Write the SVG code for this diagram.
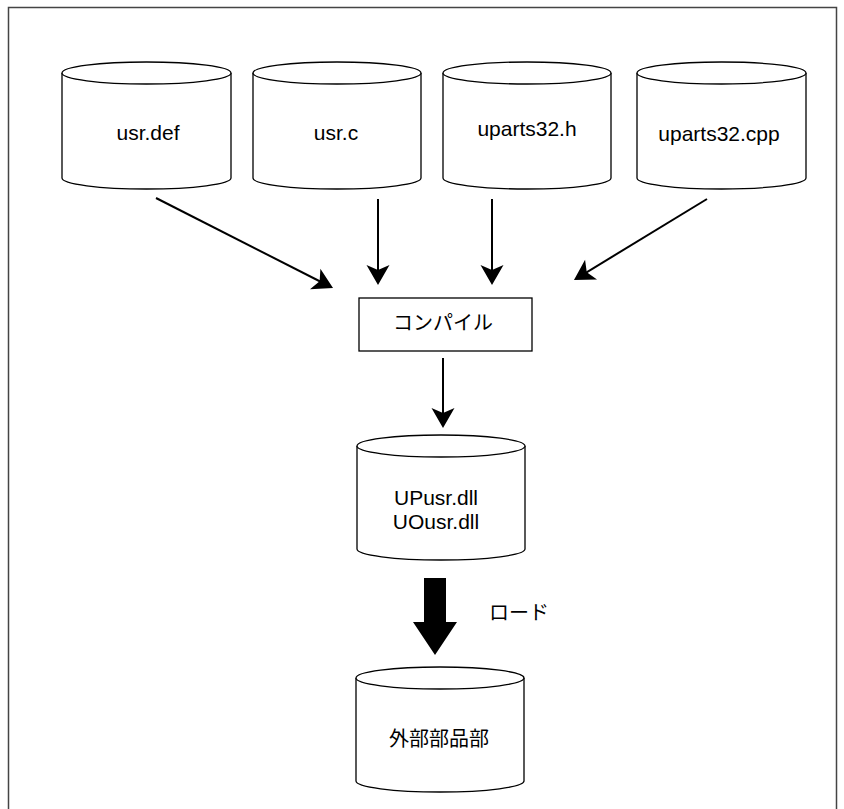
<svg xmlns="http://www.w3.org/2000/svg" width="844" height="809" viewBox="0 0 844 809">
  <style>
    .frame { fill: none; stroke: #444444; stroke-width: 1.5; }
    .cyl { fill: #ffffff; stroke: #000000; stroke-width: 1.3; }
    .box { fill: #ffffff; stroke: #000000; stroke-width: 1.3; }
    .flow { fill: none; stroke: #000000; stroke-width: 2; }
    .label { font-family: "Liberation Sans", Arial, sans-serif; font-size: 21px; fill: #000000; text-anchor: middle; }
    .jp { font-family: "Noto Sans CJK JP", "Liberation Sans", sans-serif; font-size: 20px; fill: #000000; text-anchor: middle; }
  </style>
  <defs>
    <marker id="head" markerUnits="userSpaceOnUse" viewBox="-12 -13 24 26" refX="0" refY="0" markerWidth="24" markerHeight="26" orient="auto" overflow="visible">
      <path d="M10,0 L-10,-11.5 L-5,0 L-10,11.5 Z" fill="#000000"/>
    </marker>
  </defs>

  <rect width="844" height="809" fill="#ffffff"/>
  <path class="frame" d="M8.5,809 V7.5 H836.5 V809"/>

  <!-- source files -->
  <g id="usr-def">
    <path class="cyl" d="M62,73 V178 A84.5,11 0 0 0 231,178 V73"/>
    <ellipse class="cyl" cx="146.5" cy="73" rx="84.5" ry="11"/>
    <text class="label" x="148" y="140">usr.def</text>
  </g>
  <g id="usr-c">
    <path class="cyl" d="M253,73 V178 A84,11 0 0 0 421,178 V73"/>
    <ellipse class="cyl" cx="337" cy="73" rx="84" ry="11"/>
    <text class="label" x="336" y="140">usr.c</text>
  </g>
  <g id="uparts32-h">
    <path class="cyl" d="M443,73 V178 A84,11 0 0 0 611,178 V73"/>
    <ellipse class="cyl" cx="527" cy="73" rx="84" ry="11"/>
    <text class="label" x="527" y="136">uparts32.h</text>
  </g>
  <g id="uparts32-cpp">
    <path class="cyl" d="M637,73 V178 A84.5,11 0 0 0 806,178 V73"/>
    <ellipse class="cyl" cx="721.5" cy="73" rx="84.5" ry="11"/>
    <text class="label" x="719" y="141">uparts32.cpp</text>
  </g>

  <!-- compile step -->
  <g id="compile">
    <rect class="box" x="359" y="298" width="173" height="53"/>
    <text class="jp" x="443" y="330">コンパイル</text>
  </g>

  <!-- built libraries -->
  <g id="dll">
    <path class="cyl" d="M357,446 V549 A84,11 0 0 0 525,549 V446"/>
    <ellipse class="cyl" cx="441" cy="446" rx="84" ry="11"/>
    <text class="label" x="436" y="505">UPusr.dll</text>
    <text class="label" x="436" y="529">UOusr.dll</text>
  </g>

  <!-- external parts -->
  <g id="external-parts">
    <path class="cyl" d="M356,678 V781 A84,11 0 0 0 524,781 V678"/>
    <ellipse class="cyl" cx="440" cy="678" rx="84" ry="11"/>
    <text class="jp" x="439" y="746">外部部品部</text>
  </g>

  <!-- connectors -->
  <g id="connectors">
    <line class="flow" x1="156" y1="198" x2="324.1" y2="283.5" marker-end="url(#head)"/>
    <line class="flow" x1="378" y1="199" x2="378" y2="275" marker-end="url(#head)"/>
    <line class="flow" x1="492" y1="199" x2="492" y2="275" marker-end="url(#head)"/>
    <line class="flow" x1="707" y1="199" x2="582.5" y2="274.8" marker-end="url(#head)"/>
    <line class="flow" x1="443" y1="358" x2="443" y2="418" marker-end="url(#head)"/>
    <path id="load-arrow" d="M424,578 H446 V622 H457 L435,655 L413,622 H424 Z" fill="#000000"/>
    <text class="jp" x="519" y="620">ロード</text>
  </g>
</svg>
